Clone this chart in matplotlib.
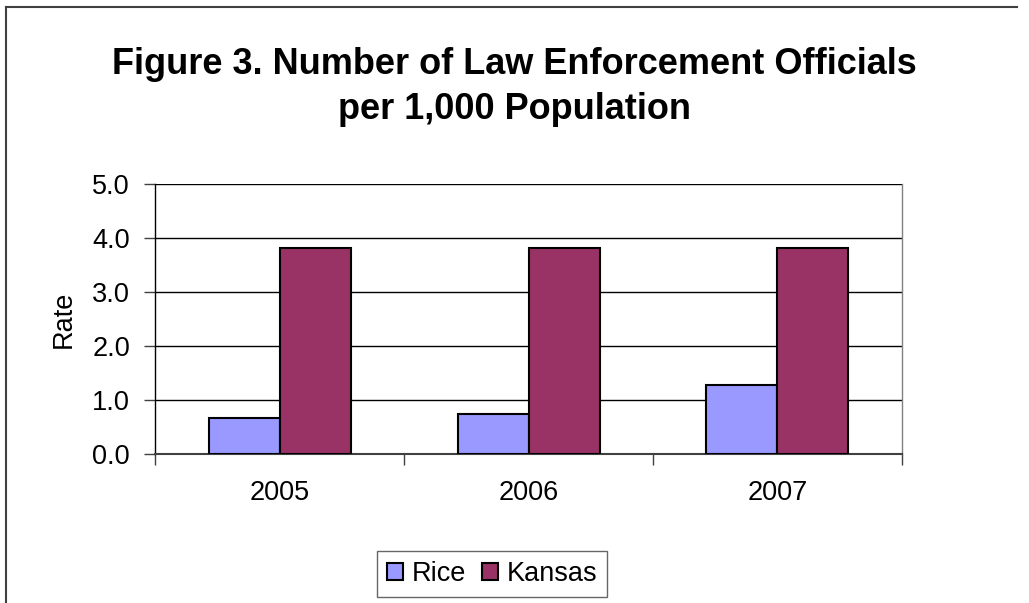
import matplotlib
matplotlib.use("Agg")
import matplotlib.pyplot as plt
import numpy as np
from matplotlib.lines import Line2D

plt.rcParams['font.family'] = ['Liberation Sans', 'DejaVu Sans']

years = ["2005", "2006", "2007"]
rice = [0.66, 0.75, 1.28]
kansas = [3.81, 3.81, 3.81]
series_names = ["Rice", "Kansas"]
colors = ["#9999FF", "#993366"]

W, H = 1029, 603
fig = plt.figure(figsize=(W/100, H/100), dpi=100)
fig.patch.set_facecolor("white")

# chart border (left and top)
fig.add_artist(Line2D([6/W, 6/W], [0, 1-7/H], color="#404040", lw=1.5, transform=fig.transFigure))
fig.add_artist(Line2D([6/W, 1017/W], [1-7/H, 1-7/H], color="#404040", lw=1.5, transform=fig.transFigure))

ax = fig.add_axes([155/W, 1-454/H, (902-155)/W, (454-184)/H])
x = np.arange(len(years))
bw = 71/249
ax.bar(x - bw/2, rice, bw, color=colors[0], edgecolor="black", linewidth=1.5, label=series_names[0], zorder=3)
ax.bar(x + bw/2, kansas, bw, color=colors[1], edgecolor="black", linewidth=1.5, label=series_names[1], zorder=3)

FS = 19.5
ax.set_xlim(-0.5, 2.5)
ax.set_ylim(0, 5)
ax.set_yticks(np.arange(0, 5.01, 1.0))
ax.set_yticklabels([f"{v:.1f}" for v in np.arange(0, 5.01, 1.0)], fontsize=FS)
ax.set_xticks(x)
ax.set_xticklabels(years, fontsize=FS)
ax.set_xticks([-0.5, 0.5, 1.5, 2.5], minor=True)
ax.tick_params(axis='x', which='major', length=0, pad=19)
ax.tick_params(axis='x', which='minor', length=8, width=1, color="#404040")
ax.tick_params(axis='y', length=8, width=1, color="#404040", pad=10)
ax.yaxis.grid(True, color="black", linewidth=1, zorder=0)
ax.set_axisbelow(True)
ax.spines["right"].set_color("#808080")
ax.spines["right"].set_linewidth(1)
ax.spines["top"].set_visible(False)
ax.spines["left"].set_color("black")
ax.spines["left"].set_linewidth(1)
ax.spines["bottom"].set_color("#404040")
ax.spines["bottom"].set_linewidth(1.5)
ax.set_ylabel("Rate", fontsize=FS, labelpad=11)

fig.text(0.5, 1-74/H, "Figure 3. Number of Law Enforcement Officials", ha="center", va="baseline",
         fontsize=26, fontweight="bold")
fig.text(0.5, 1-119/H, "per 1,000 Population", ha="center", va="baseline",
         fontsize=26, fontweight="bold")

leg = fig.legend(loc="center", bbox_to_anchor=(492/W, 1-574/H), ncol=2, fontsize=FS,
                 frameon=True, fancybox=False, edgecolor="#404040", handlelength=0.6,
                 handleheight=0.6, handletextpad=0.3, columnspacing=0.6, borderpad=0.38,
                 borderaxespad=0)
leg.get_frame().set_linewidth(1)

fig.savefig("out.png", dpi=100, facecolor="white")
